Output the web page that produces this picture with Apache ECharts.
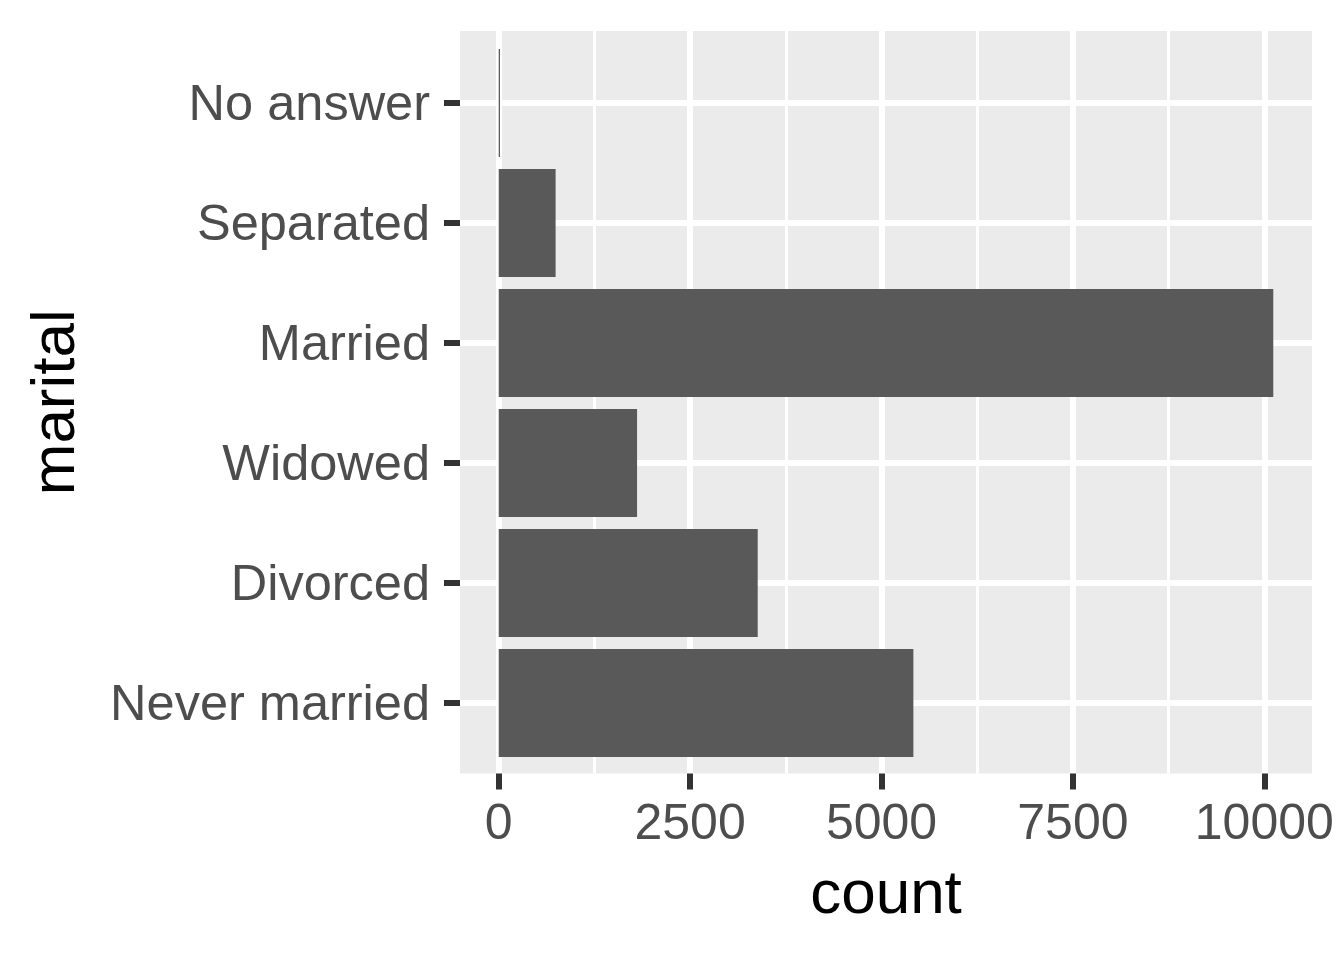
<!DOCTYPE html>
<html>
<head>
<meta charset="utf-8">
<script src="https://cdn.jsdelivr.net/npm/echarts@6/dist/echarts.min.js"></script>
<style>
  html, body { margin: 0; padding: 0; background: #fff; }
  #chart { width: 1344px; height: 960px; }
</style>
</head>
<body>
<div id="chart"></div>
<script>
// datos (de abajo hacia arriba en el eje y)
var categories = ['Never married', 'Divorced', 'Widowed', 'Married', 'Separated', 'No answer'];
var counts = [5416, 3383, 1807, 10117, 743, 17];
var xTicks = [0, 2500, 5000, 7500, 10000];

// rango del panel con la expansion de ggplot (5%)
var xMin = -505.85, xMax = 10622.85;

var font = 'Liberation Sans, Arial, sans-serif';

var chart = echarts.init(document.getElementById('chart'));

chart.setOption({
    animation: false,
    backgroundColor: '#ffffff',
    textStyle: { fontFamily: font },
    grid: [
        // fondo del panel + titulos
        { left: 460, right: 32, top: 31, bottom: 186.5, show: true, backgroundColor: '#EBEBEB', borderWidth: 0, z: -10 },
        // barras y lineas horizontales
        { left: 460, right: 32, top: 103, bottom: 257 },
        // lineas verticales y etiquetas del eje x
        { left: 498.7, right: 79.7, top: 31, bottom: 186.5 }
    ],
    xAxis: [
        {
            gridIndex: 0, type: 'value', min: xMin, max: xMax,
            name: 'count', nameLocation: 'middle', nameGap: 91,
            nameTextStyle: { color: '#000', fontSize: 62, fontFamily: font },
            axisLine: { show: false }, axisTick: { show: false },
            axisLabel: { show: false }, splitLine: { show: false }
        },
        {
            gridIndex: 1, type: 'value', min: xMin, max: xMax,
            axisLine: { show: false }, axisTick: { show: false },
            axisLabel: { show: false }, splitLine: { show: false }
        },
        {
            gridIndex: 2, type: 'value', min: 0, max: 10000, interval: 2500,
            axisLine: { show: false },
            axisTick: { show: true, length: 16, lineStyle: { color: '#333333', width: 6 } },
            minorTick: { show: false, splitNumber: 2 },
            axisLabel: {
                color: '#4D4D4D', fontSize: 50, margin: 27, fontFamily: font,
                showMinLabel: true, showMaxLabel: true,
                formatter: function (v) { return xTicks.indexOf(v) >= 0 ? String(v) : ''; }
            },
            splitLine: { show: true, lineStyle: { color: '#ffffff', width: 6 } },
            minorSplitLine: { show: true, lineStyle: { color: '#ffffff', width: 3 } }
        }
    ],
    yAxis: [
        {
            gridIndex: 0, type: 'value', min: 0, max: 1,
            name: 'marital', nameLocation: 'middle', nameGap: 372, nameRotate: 90,
            nameTextStyle: { color: '#000', fontSize: 62, fontFamily: font },
            axisLine: { show: false, onZero: false }, axisTick: { show: false },
            axisLabel: { show: false }, splitLine: { show: false }
        },
        {
            gridIndex: 1, type: 'category', data: categories, boundaryGap: false,
            axisLine: { show: false, onZero: false },
            axisTick: { show: true, length: 16, lineStyle: { color: '#333333', width: 6 } },
            axisLabel: {
                margin: 30,
                formatter: function (v) { return '{t|' + v + '}'; },
                rich: {
                    t: { color: '#4D4D4D', fontSize: 50.5, fontFamily: font, padding: [7, 0, 0, 0] }
                }
            },
            splitLine: { show: true, lineStyle: { color: '#ffffff', width: 6 } }
        },
        {
            gridIndex: 2, type: 'value', min: 0, max: 1,
            axisLine: { show: false, onZero: false }, axisTick: { show: false },
            axisLabel: { show: false }, splitLine: { show: false }
        }
    ],
    series: [{
        type: 'bar',
        xAxisIndex: 1,
        yAxisIndex: 1,
        data: counts,
        barWidth: 108,
        itemStyle: { color: '#595959' },
        z: 5
    }]
});
</script>
</body>
</html>
